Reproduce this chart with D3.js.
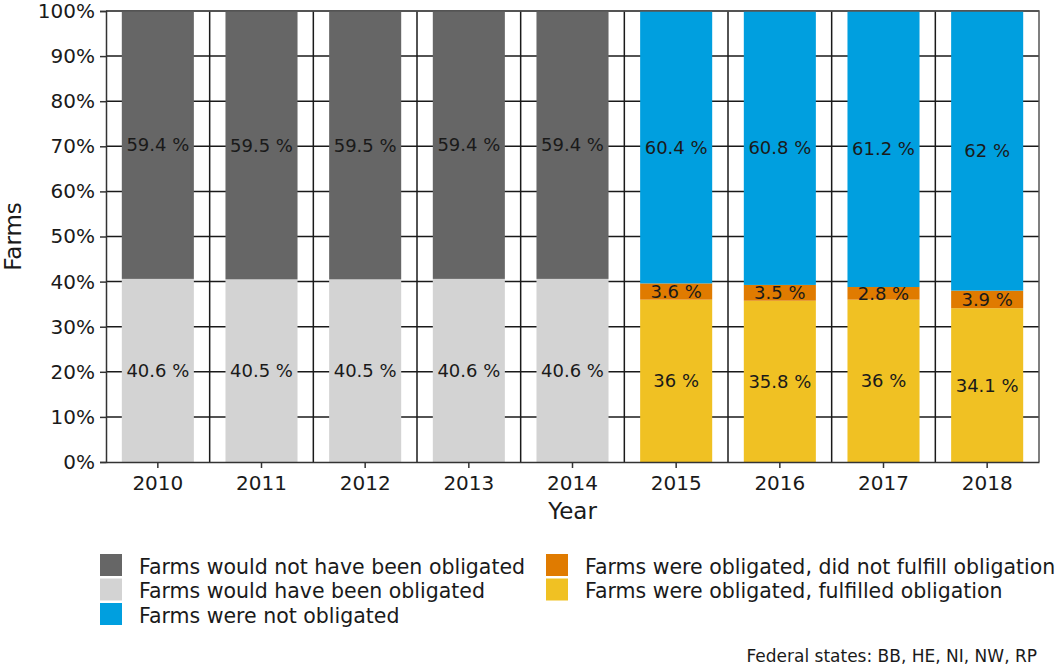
<!DOCTYPE html>
<html>
<head>
<meta charset="utf-8">
<script src="https://cdn.jsdelivr.net/npm/d3@7"></script>
<style>
  body { margin: 0; background: #fff; }
  text { font-family: "DejaVu Sans", sans-serif; fill: #1a1a1a; }
</style>
</head>
<body>
<script>
// data
var years = ["2010", "2011", "2012", "2013", "2014", "2015", "2016", "2017", "2018"];
var seriesKeys = ["fulfilled", "notFulfilled", "wouldHave", "notObligated", "wouldNotHave"];
var wouldHave    = [40.6, 40.5, 40.5, 40.6, 40.6, 0, 0, 0, 0];
var wouldNotHave = [59.4, 59.5, 59.5, 59.4, 59.4, 0, 0, 0, 0];
var fulfilled    = [0, 0, 0, 0, 0, 36, 35.8, 36, 34.1];
var notFulfilled = [0, 0, 0, 0, 0, 3.6, 3.5, 2.8, 3.9];
var notObligated = [0, 0, 0, 0, 0, 60.4, 60.8, 61.2, 62];
var yTicks = [0, 10, 20, 30, 40, 50, 60, 70, 80, 90, 100];

var colors = {
  wouldNotHave: "#666666",
  wouldHave: "#d3d3d3",
  notObligated: "#009fdf",
  notFulfilled: "#e07b00",
  fulfilled: "#f0c123"
};
var labels = {
  wouldNotHave: "Farms would not have been obligated",
  wouldHave: "Farms would have been obligated",
  notObligated: "Farms were not obligated",
  notFulfilled: "Farms were obligated, did not fulfill obligation",
  fulfilled: "Farms were obligated, fulfilled obligation"
};

var rows = years.map(function(y, i) {
  return {
    year: y,
    fulfilled: fulfilled[i],
    notFulfilled: notFulfilled[i],
    wouldHave: wouldHave[i],
    notObligated: notObligated[i],
    wouldNotHave: wouldNotHave[i]
  };
});

var w = 1060, h = 668;
var m = {left: 106, top: 11, right: 1039, bottom: 462};

var svg = d3.select("body").append("svg")
  .attr("width", w)
  .attr("height", h);

var x = d3.scaleBand()
  .domain(years)
  .range([m.left, m.right])
  .paddingInner(0)
  .paddingOuter(0);

var y = d3.scaleLinear()
  .domain([0, 100])
  .range([m.bottom, m.top]);

var barW = x.bandwidth() * 0.695;

// grid
svg.append("g").selectAll("line.h")
  .data(yTicks.slice(1))
  .enter().append("line")
  .attr("x1", m.left).attr("x2", m.right)
  .attr("y1", function(d) { return y(d); })
  .attr("y2", function(d) { return y(d); })
  .attr("stroke", "#1a1a1a")
  .attr("stroke-width", 1.5);

svg.append("g").selectAll("line.v")
  .data(years.slice(1))
  .enter().append("line")
  .attr("x1", function(d) { return x(d); })
  .attr("x2", function(d) { return x(d); })
  .attr("y1", m.top).attr("y2", m.bottom)
  .attr("stroke", "#1a1a1a")
  .attr("stroke-width", 1.5);

// bars
var stack = d3.stack().keys(seriesKeys).offset(d3.stackOffsetExpand);
var layers = stack(rows);

var g = svg.append("g");
layers.forEach(function(layer) {
  g.selectAll(null)
    .data(layer.filter(function(d) { return d[1] > d[0]; }))
    .enter().append("rect")
    .attr("x", function(d) { return x(d.data.year) + (x.bandwidth() - barW) / 2; })
    .attr("width", barW)
    .attr("y", function(d) { return y(d[1] * 100); })
    .attr("height", function(d) { return y(d[0] * 100) - y(d[1] * 100); })
    .attr("fill", colors[layer.key]);
});

layers.forEach(function(layer) {
  g.selectAll(null)
    .data(layer.filter(function(d) { return d[1] > d[0]; }))
    .enter().append("text")
    .attr("x", function(d) { return x(d.data.year) + x.bandwidth() / 2; })
    .attr("y", function(d) { return y((d[0] + d[1]) * 50); })
    .attr("dy", "0.36em")
    .attr("text-anchor", "middle")
    .style("font-size", "18px")
    .text(function(d) { return d.data[layer.key] + " %"; });
});

// panel border (top/right)
svg.append("path")
  .attr("d", "M" + m.left + "," + m.top + "H" + m.right + "V" + m.bottom)
  .attr("fill", "none")
  .attr("stroke", "#555")
  .attr("stroke-width", 1.5);

// axes
var yAxis = svg.append("g")
  .attr("transform", "translate(" + m.left + ",0)")
  .call(d3.axisLeft(y).tickValues(yTicks).tickSize(6).tickPadding(5)
    .tickFormat(function(d) { return d + "%"; }));
yAxis.select(".domain").attr("stroke", "#333").attr("stroke-width", 1.5);
yAxis.selectAll(".tick line").attr("stroke", "#333").attr("stroke-width", 1.5);
yAxis.selectAll("text").style("font-size", "20px").attr("fill", "#1a1a1a");

var xAxis = svg.append("g")
  .attr("transform", "translate(0," + m.bottom + ")")
  .call(d3.axisBottom(x).tickSize(6).tickPadding(8).tickSizeOuter(0));
xAxis.select(".domain").attr("stroke", "#333").attr("stroke-width", 1.5);
xAxis.selectAll(".tick line").attr("stroke", "#333").attr("stroke-width", 1.5);
xAxis.selectAll("text").style("font-size", "20px").attr("fill", "#1a1a1a");

svg.append("text")
  .attr("x", (m.left + m.right) / 2)
  .attr("y", 519)
  .attr("text-anchor", "middle")
  .style("font-size", "23px")
  .text("Year");

svg.append("text")
  .attr("transform", "translate(21," + ((m.top + m.bottom) / 2) + ") rotate(-90)")
  .attr("text-anchor", "middle")
  .style("font-size", "23px")
  .text("Farms");

// legend
var legendItems = [
  {key: "wouldNotHave", col: 0, row: 0},
  {key: "wouldHave", col: 0, row: 1},
  {key: "notObligated", col: 0, row: 2},
  {key: "notFulfilled", col: 1, row: 0},
  {key: "fulfilled", col: 1, row: 1}
];
var colX = [100, 546];
var leg = svg.append("g").selectAll("g")
  .data(legendItems)
  .enter().append("g")
  .attr("transform", function(d) { return "translate(" + colX[d.col] + "," + (554 + d.row * 24.5) + ")"; });
leg.append("rect")
  .attr("width", 22).attr("height", 22)
  .attr("fill", function(d) { return colors[d.key]; });
leg.append("text")
  .attr("x", 39).attr("y", 12.5)
  .attr("dy", "0.36em")
  .style("font-size", "20.5px")
  .text(function(d) { return labels[d.key]; });

svg.append("text")
  .attr("x", 1037)
  .attr("y", 656)
  .attr("dy", "0.36em")
  .attr("text-anchor", "end")
  .style("font-size", "17px")
  .text("Federal states: BB, HE, NI, NW, RP");
</script>
</body>
</html>
